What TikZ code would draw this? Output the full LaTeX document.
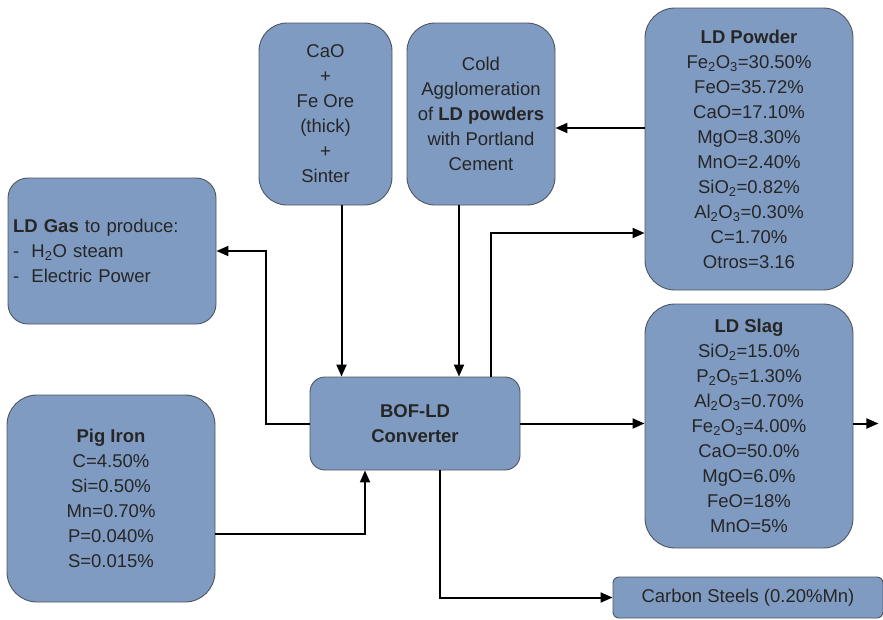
\documentclass[tikz,border=0pt]{standalone}
\usepackage{fontspec}
\setmainfont{Liberation Sans}
\usetikzlibrary{arrows.meta,calc}
\definecolor{boxfill}{HTML}{7F9BC1}
\definecolor{boxline}{HTML}{4E5560}
\definecolor{txt}{HTML}{262626}
\newcommand{\chs}[1]{\textsubscript{#1}}
\begin{document}
\begin{tikzpicture}[x=1pt,y=-1pt,
  box/.style={draw=boxline, line width=0.9pt, fill=boxfill, rounded corners=#1,
    inner sep=0pt, align=center, text=txt, font=\fontsize{18.5}{25}\selectfont},
  box/.default=28pt,
  arr/.style={line width=2pt, -{Triangle[length=12pt,width=10pt]}}]
\useasboundingbox (0,0) rectangle (883,619);

\node[box=20pt, minimum width=208pt, minimum height=146pt, text width=198pt, inner xsep=5pt, align=left] (gas) at (112,251)
  {\textbf{LD Gas} to produce:\\-~~H\chs{2}O steam\\-~~Electric Power};
\node[box, minimum width=133pt, minimum height=182pt] (cao) at (325.5,114)
  {CaO\\+\\Fe Ore\\(thick)\\+\\Sinter};
\node[box, minimum width=148pt, minimum height=182pt] (cold) at (481,114)
  {Cold\\Agglomeration\\of \textbf{LD powders}\\with Portland\\Cement};
\node[box=30pt, minimum width=208pt, minimum height=282pt] (powder) at (749,149)
  {\textbf{LD Powder}\\Fe\chs{2}O\chs{3}=30.50\%\\FeO=35.72\%\\CaO=17.10\%\\MgO=8.30\%\\MnO=2.40\%\\SiO\chs{2}=0.82\%\\Al\chs{2}O\chs{3}=0.30\%\\C=1.70\%\\Otros=3.16};
\node[box=30pt, minimum width=208pt, minimum height=244pt] (slag) at (749,426)
  {\textbf{LD Slag}\\SiO\chs{2}=15.0\%\\P\chs{2}O\chs{5}=1.30\%\\Al\chs{2}O\chs{3}=0.70\%\\Fe\chs{2}O\chs{3}=4.00\%\\CaO=50.0\%\\MgO=6.0\%\\FeO=18\%\\MnO=5\%};
\node[box=30pt, minimum width=208pt, minimum height=207pt] (pig) at (111,498.5)
  {\textbf{Pig Iron}\\C=4.50\%\\Si=0.50\%\\Mn=0.70\%\\P=0.040\%\\S=0.015\%};
\node[box=15pt, minimum width=210pt, minimum height=93pt] (bof) at (415,423.5)
  {\textbf{BOF-LD}\\\textbf{Converter}};
\node[box=6pt, minimum width=270pt, minimum height=41pt] (steel) at (748,597.5)
  {Carbon Steels (0.20\%Mn)};
\coordinate (out) at ([xshift=25pt]bof.east -| slag.east);

\draw[arr] ([xshift=16pt]cao.south) -- ([xshift=16pt]cao.south |- bof.north);
\draw[arr] ([xshift=-22pt]cold.south) -- ([xshift=-22pt]cold.south |- bof.north);
\draw[arr] ([xshift=76pt]bof.north) |- ([yshift=-84pt]powder.west);
\draw[arr] ([yshift=21pt]powder.west) -- ([yshift=21pt]powder.west -| cold.east);
\draw[arr] (bof.west) -| ([xshift=50pt]gas.east) -- (gas.east);
\draw[arr] (bof.east) -- (bof.east -| slag.west);
\draw[arr] (bof.east -| slag.east) -- (out);
\draw[arr] ([yshift=-35pt]pig.east) -| ([xshift=-50pt]bof.south);
\draw[arr] ([xshift=25pt]bof.south) |- (steel.west);
\end{tikzpicture}
\end{document}
